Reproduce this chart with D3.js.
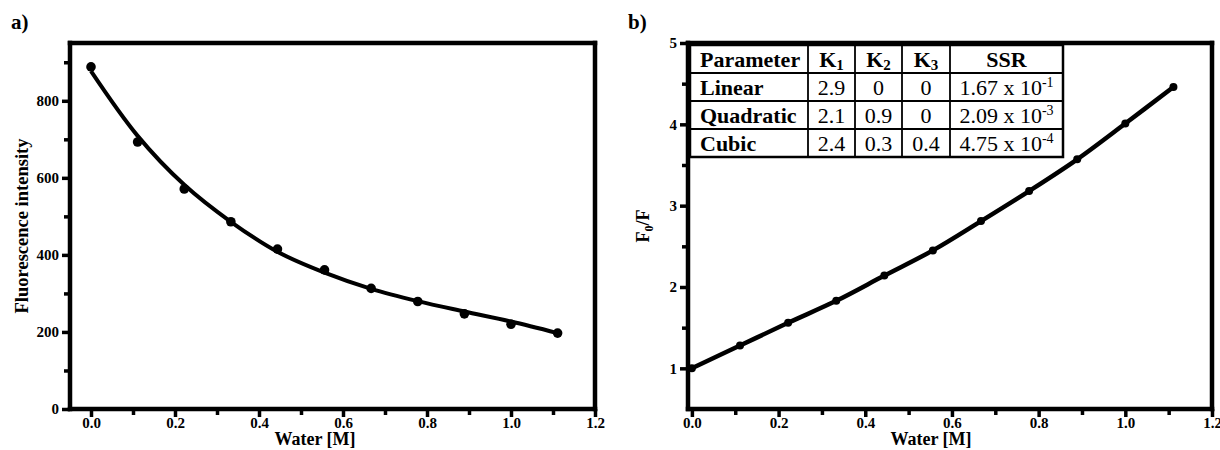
<!DOCTYPE html>
<html>
<head>
<meta charset="utf-8">
<script src="https://cdn.jsdelivr.net/npm/d3@7"></script>
<style>
  html, body { margin: 0; padding: 0; background: #fff; }
  svg { display: block; }
  text { font-family: "Liberation Serif", "Times New Roman", serif; fill: #000; }
</style>
</head>
<body>
<svg id="chart" width="1220" height="450"></svg>
<script>
// Water concentration (M) for each titration step
const waterConc = [0, 0.111, 0.222, 0.333, 0.444, 0.556, 0.667, 0.778, 0.889, 1.0, 1.111];
// Panel a: measured fluorescence intensity and the fitted decay
const intensity = [888, 693, 571, 486, 415, 361, 313, 279, 247, 220, 197];
const intensityFit = [877, 709, 582, 486, 408, 354, 312, 280, 253, 227, 197];
// Panel b: Stern–Volmer ratio F0/F
const ratio = [1.0, 1.28, 1.56, 1.83, 2.14, 2.45, 2.81, 3.18, 3.57, 4.01, 4.46];

// Axis ticks
const ticksAx = [0, 0.2, 0.4, 0.6, 0.8, 1.0, 1.2];
const minorAx = [0.1, 0.3, 0.5, 0.7, 0.9, 1.1];
const ticksAy = [0, 200, 400, 600, 800];
const minorAy = [100, 300, 500, 700, 900];
const ticksBx = [0, 0.2, 0.4, 0.6, 0.8, 1.0, 1.2];
const minorBx = [0.1, 0.3, 0.5, 0.7, 0.9, 1.1];
const ticksBy = [1, 2, 3, 4, 5];
const minorBy = [1.5, 2.5, 3.5, 4.5];

// Fit-parameter table
const tableHeader = ["Parameter", "K1", "K2", "K3", "SSR"];
const modelNames = ["Linear", "Quadratic", "Cubic"];
const k1Values = ["2.9", "2.1", "2.4"];
const k2Values = ["0", "0.9", "0.3"];
const k3Values = ["0", "0", "0.4"];
const ssrMantissa = ["1.67", "2.09", "4.75"];
const ssrExponent = ["-1", "-3", "-4"];

const svg = d3.select("#chart");

function panel(opts) {
  const { left, top, right, bottom, xDomain, yDomain } = opts;
  const x = d3.scaleLinear().domain(xDomain).range([left, right]);
  const y = d3.scaleLinear().domain(yDomain).range([bottom, top]);
  const g = svg.append("g");

  // minor ticks
  g.append("g").attr("transform", `translate(0,${bottom})`)
    .call(d3.axisBottom(x).tickValues(opts.minorX).tickSize(6).tickFormat(""))
    .call(s => s.select(".domain").remove());
  g.append("g").attr("transform", `translate(${left},0)`)
    .call(d3.axisLeft(y).tickValues(opts.minorY).tickSize(6).tickFormat(""))
    .call(s => s.select(".domain").remove());

  // major ticks with labels
  const xa = g.append("g").attr("transform", `translate(0,${bottom})`)
    .call(d3.axisBottom(x).tickValues(opts.ticksX).tickSize(8).tickPadding(0).tickFormat(d3.format(".1f")));
  const ya = g.append("g").attr("transform", `translate(${left},0)`)
    .call(d3.axisLeft(y).tickValues(opts.ticksY).tickSize(8).tickPadding(3).tickFormat(d3.format("d")));
  [xa, ya].forEach(a => {
    a.select(".domain").remove();
    a.selectAll("text").attr("font-family", "Liberation Serif").attr("font-weight", "bold").attr("font-size", 15);
  });
  g.selectAll(".tick line").attr("stroke", "#000").attr("stroke-width", 3.5);

  // frame: four thick sides
  const frame = [
    [left, top, right, top], [right, top, right, bottom],
    [right, bottom, left, bottom], [left, bottom, left, top]
  ];
  g.selectAll("line.frame").data(frame).join("line")
    .attr("class", "frame")
    .attr("x1", d => d[0]).attr("y1", d => d[1]).attr("x2", d => d[2]).attr("y2", d => d[3])
    .attr("stroke", "#000").attr("stroke-width", 4.5).attr("stroke-linecap", "square");

  return { g, x, y };
}

// ---------- Panel a ----------
const pa = panel({
  left: 70, top: 43, right: 595, bottom: 409,
  xDomain: [-0.05, 1.2], yDomain: [0, 950],
  ticksX: ticksAx, minorX: minorAx, ticksY: ticksAy, minorY: minorAy
});

const fitLineA = d3.line()
  .x((d, i) => pa.x(waterConc[i]))
  .y(d => pa.y(d))
  .curve(d3.curveCatmullRom);
pa.g.append("path").datum(intensityFit)
  .attr("d", fitLineA).attr("fill", "none").attr("stroke", "#000").attr("stroke-width", 4);
pa.g.selectAll("circle.pt").data(intensity).join("circle")
  .attr("class", "pt")
  .attr("cx", (d, i) => pa.x(waterConc[i])).attr("cy", d => pa.y(d)).attr("r", 4.8).attr("fill", "#000");

svg.append("text").attr("x", 315).attr("y", 445).attr("text-anchor", "middle")
  .attr("font-weight", "bold").attr("font-size", 18).text("Water [M]");
svg.append("text").attr("transform", "translate(28,226) rotate(-90)").attr("text-anchor", "middle")
  .attr("font-weight", "bold").attr("font-size", 18.5).text("Fluorescence intensity");
svg.append("text").attr("x", 11).attr("y", 29).attr("font-weight", "bold").attr("font-size", 21).text("a)");

// ---------- Panel b ----------
const pb = panel({
  left: 688, top: 43, right: 1212, bottom: 409,
  xDomain: [-0.009, 1.2], yDomain: [0.5, 5],
  ticksX: ticksBx, minorX: minorBx, ticksY: ticksBy, minorY: minorBy
});

const lineB = d3.line()
  .x((d, i) => pb.x(waterConc[i]))
  .y(d => pb.y(d))
  .curve(d3.curveCatmullRom);
pb.g.append("path").datum(ratio)
  .attr("d", lineB).attr("fill", "none").attr("stroke", "#000").attr("stroke-width", 4.5);
pb.g.selectAll("circle.pt").data(ratio).join("circle")
  .attr("class", "pt")
  .attr("cx", (d, i) => pb.x(waterConc[i])).attr("cy", d => pb.y(d)).attr("r", 4).attr("fill", "#000");

svg.append("text").attr("x", 931).attr("y", 445).attr("text-anchor", "middle")
  .attr("font-weight", "bold").attr("font-size", 18).text("Water [M]");
const fy = svg.append("text").attr("transform", "translate(649,226) rotate(-90)").attr("text-anchor", "middle")
  .attr("font-weight", "bold").attr("font-size", 18);
fy.append("tspan").text("F");
fy.append("tspan").attr("font-size", 12).attr("dy", 4).text("0");
fy.append("tspan").attr("dy", -4).text("/F");
svg.append("text").attr("x", 628).attr("y", 29).attr("font-weight", "bold").attr("font-size", 21).text("b)");

// ---------- Parameter table ----------
const colEdges = [690, 808, 855, 902, 950, 1063];
const rowEdges = [45, 73, 101, 129, 157];
const tbl = svg.append("g");
tbl.append("rect")
  .attr("x", colEdges[0]).attr("y", rowEdges[0])
  .attr("width", colEdges[5] - colEdges[0]).attr("height", rowEdges[4] - rowEdges[0])
  .attr("fill", "#fff");
colEdges.slice(1, -1).forEach(cx => tbl.append("line")
  .attr("x1", cx).attr("x2", cx).attr("y1", rowEdges[0]).attr("y2", rowEdges[4])
  .attr("stroke", "#000").attr("stroke-width", 1.8));
rowEdges.slice(1, -1).forEach(ry => tbl.append("line")
  .attr("x1", colEdges[0]).attr("x2", colEdges[5]).attr("y1", ry).attr("y2", ry)
  .attr("stroke", "#000").attr("stroke-width", 1.8));
tbl.append("rect")
  .attr("x", colEdges[0]).attr("y", rowEdges[0])
  .attr("width", colEdges[5] - colEdges[0]).attr("height", rowEdges[4] - rowEdges[0])
  .attr("fill", "none").attr("stroke", "#000").attr("stroke-width", 2.5);

const fs = 22;
const mid = c => (colEdges[c] + colEdges[c + 1]) / 2;
const base = r => rowEdges[r + 1] - 6;

// header row
tbl.append("text").attr("x", 700).attr("y", base(0)).attr("font-weight", "bold").attr("font-size", fs).text(tableHeader[0]);
[1, 2, 3].forEach(c => {
  const t = tbl.append("text").attr("x", mid(c)).attr("y", base(0)).attr("text-anchor", "middle")
    .attr("font-weight", "bold").attr("font-size", fs);
  t.append("tspan").text(tableHeader[c][0]);
  t.append("tspan").attr("font-size", 15).attr("dy", 3).text(tableHeader[c].slice(1));
});
tbl.append("text").attr("x", mid(4)).attr("y", base(0)).attr("text-anchor", "middle")
  .attr("font-weight", "bold").attr("font-size", fs).text(tableHeader[4]);

// data rows
modelNames.forEach((name, i) => {
  const r = i + 1;
  tbl.append("text").attr("x", 700).attr("y", base(r)).attr("font-weight", "bold").attr("font-size", fs).text(name);
  [k1Values, k2Values, k3Values].forEach((vals, j) => {
    tbl.append("text").attr("x", mid(j + 1)).attr("y", base(r)).attr("text-anchor", "middle")
      .attr("font-size", fs).text(vals[i]);
  });
  const t = tbl.append("text").attr("x", mid(4)).attr("y", base(r)).attr("text-anchor", "middle").attr("font-size", fs);
  t.append("tspan").text(`${ssrMantissa[i]} x 10`);
  t.append("tspan").attr("font-size", 14).attr("dy", -8).text(ssrExponent[i]);
});
</script>
</body>
</html>
